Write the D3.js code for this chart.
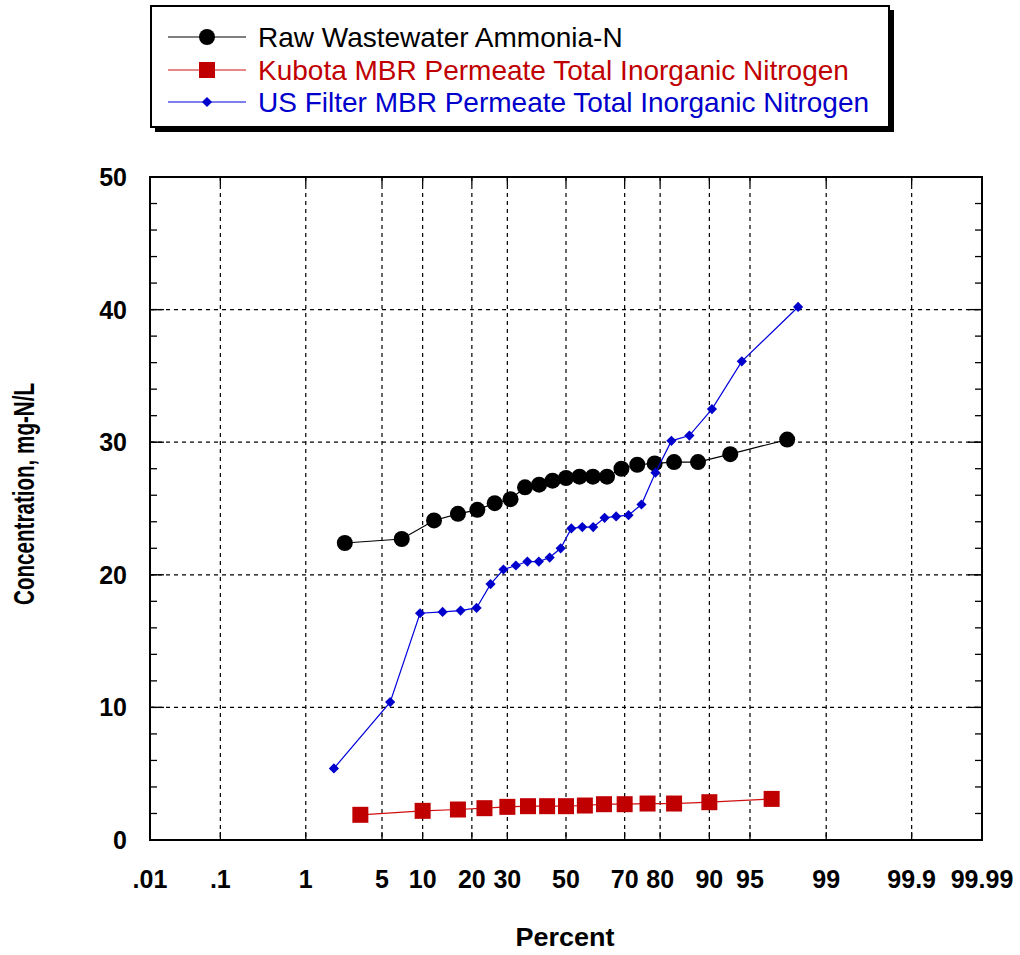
<!DOCTYPE html>
<html><head><meta charset="utf-8">
<script src="https://cdn.jsdelivr.net/npm/d3@7"></script>
<style>body{margin:0;background:#fff}svg{display:block;font-family:Arial,"Liberation Sans",sans-serif}</style>
</head><body><svg id="c" width="1020" height="955"></svg>
<script>
// ---- data ----
const xTickLabels = [".01", ".1", "1", "5", "10", "20", "30", "50", "70", "80", "90", "95", "99", "99.9", "99.99"];
const xTickValues = [0.01, 0.1, 1, 5, 10, 20, 30, 50, 70, 80, 90, 95, 99, 99.9, 99.99];
const yTickValues = [0, 10, 20, 30, 40, 50];
const seriesNames = ["Raw Wastewater Ammonia-N", "Kubota MBR Permeate Total Inorganic Nitrogen", "US Filter MBR Permeate Total Inorganic Nitrogen"];

const rawPct = [2.4, 7.1, 11.9, 16.7, 21.4, 26.2, 31.0, 35.7, 40.5, 45.2, 50, 54.8, 59.5, 64.3, 69.0, 73.8, 78.6, 83.3, 88.1, 92.9, 97.6];
const rawVal = [22.4, 22.7, 24.1, 24.6, 24.9, 25.4, 25.7, 26.6, 26.8, 27.1, 27.3, 27.4, 27.4, 27.4, 28.0, 28.3, 28.4, 28.5, 28.5, 29.1, 30.2];

const kubPct = [3.3, 10, 16.7, 23.3, 30, 36.7, 43.3, 50, 56.7, 63.3, 70, 76.7, 83.3, 90, 96.7];
const kubVal = [1.9, 2.2, 2.3, 2.4, 2.5, 2.55, 2.55, 2.55, 2.6, 2.7, 2.7, 2.75, 2.75, 2.85, 3.1];

const usfPct = [1.9, 5.8, 9.6, 13.5, 17.3, 21.2, 25.0, 28.8, 32.7, 36.5, 40.4, 44.2, 48.1, 51.9, 55.8, 59.6, 63.5, 67.3, 71.2, 75.0, 78.8, 82.7, 86.5, 90.4, 94.2, 98.1];
const usfVal = [5.4, 10.4, 17.1, 17.2, 17.3, 17.5, 19.3, 20.4, 20.7, 21.0, 21.0, 21.3, 22.0, 23.5, 23.6, 23.6, 24.3, 24.4, 24.5, 25.3, 27.7, 30.1, 30.5, 32.5, 36.1, 40.2];

// ---- probit (inverse normal CDF, Acklam) ----
function probit(p){
  const a=[-3.969683028665376e+01,2.209460984245205e+02,-2.759285104469687e+02,1.383577518672690e+02,-3.066479806614716e+01,2.506628277459239e+00];
  const b=[-5.447609879822406e+01,1.615858368580409e+02,-1.556989798598866e+02,6.680131188771972e+01,-1.328068155288572e+01];
  const c=[-7.784894002430293e-03,-3.223964580411365e-01,-2.400758277161838e+00,-2.549671010342505e+00,4.374664141464968e+00,2.938163982698783e+00];
  const d=[7.784695709041462e-03,3.224671290700398e-01,2.445134137142996e+00,3.754408661907416e+00];
  const pl=0.02425;
  let q,r;
  if(p<pl){q=Math.sqrt(-2*Math.log(p));return (((((c[0]*q+c[1])*q+c[2])*q+c[3])*q+c[4])*q+c[5])/((((d[0]*q+d[1])*q+d[2])*q+d[3])*q+1);}
  if(p>1-pl){q=Math.sqrt(-2*Math.log(1-p));return -(((((c[0]*q+c[1])*q+c[2])*q+c[3])*q+c[4])*q+c[5])/((((d[0]*q+d[1])*q+d[2])*q+d[3])*q+1);}
  q=p-0.5;r=q*q;
  return (((((a[0]*r+a[1])*r+a[2])*r+a[3])*r+a[4])*r+a[5])*q/(((((b[0]*r+b[1])*r+b[2])*r+b[3])*r+b[4])*r+1);
}

const L=150, R=982, T=177, B=840;
const zScale = d3.scaleLinear().domain([probit(0.0001), probit(0.9999)]).range([L, R]);
const x = pct => zScale(probit(pct/100));
const y = d3.scaleLinear().domain([0, 50]).range([B, T]);

const svg = d3.select("#c");

// grid
const g = svg.append("g");
xTickValues.slice(1, -1).forEach(v => {
  g.append("line").attr("x1", x(v)).attr("x2", x(v)).attr("y1", T).attr("y2", B)
    .attr("stroke", "#000").attr("stroke-width", 1.2).attr("stroke-dasharray", "4,4");
});
yTickValues.slice(1, -1).forEach(v => {
  g.append("line").attr("x1", L).attr("x2", R).attr("y1", y(v)).attr("y2", y(v))
    .attr("stroke", "#000").attr("stroke-width", 1.2).attr("stroke-dasharray", "4,4");
});
// x ticks top & bottom (inward)
xTickValues.forEach(v => {
  g.append("line").attr("x1", x(v)).attr("x2", x(v)).attr("y1", B).attr("y2", B-8).attr("stroke", "#000").attr("stroke-width", 1.3);
  g.append("line").attr("x1", x(v)).attr("x2", x(v)).attr("y1", T).attr("y2", T+8).attr("stroke", "#000").attr("stroke-width", 1.3);
});
// y ticks left & right (inward), minor every 2
d3.range(0, 51, 2).forEach(v => {
  const len = 7;
  g.append("line").attr("x1", L).attr("x2", L+len).attr("y1", y(v)).attr("y2", y(v)).attr("stroke", "#000").attr("stroke-width", 1.3);
  g.append("line").attr("x1", R).attr("x2", R-len).attr("y1", y(v)).attr("y2", y(v)).attr("stroke", "#000").attr("stroke-width", 1.3);
});
yTickValues.forEach(v => {
  g.append("line").attr("x1", L).attr("x2", L+14).attr("y1", y(v)).attr("y2", y(v)).attr("stroke", "#000").attr("stroke-width", 1.3);
  g.append("line").attr("x1", R).attr("x2", R-14).attr("y1", y(v)).attr("y2", y(v)).attr("stroke", "#000").attr("stroke-width", 1.3);
});
// frame
svg.append("rect").attr("x", L).attr("y", T).attr("width", R-L).attr("height", B-T)
  .attr("fill", "none").attr("stroke", "#000").attr("stroke-width", 2);

// tick labels
xTickValues.forEach((v, i) => {
  svg.append("text").attr("x", x(v)).attr("y", 888).attr("text-anchor", "middle")
    .attr("font-size", 25).attr("font-weight", "bold").text(xTickLabels[i]);
});
yTickValues.forEach(v => {
  svg.append("text").attr("x", 127).attr("y", y(v)+9).attr("text-anchor", "end")
    .attr("font-size", 25).attr("font-weight", "bold").text(v);
});
svg.append("text").attr("x", 565).attr("y", 946).attr("text-anchor", "middle")
  .attr("font-size", 26).attr("font-weight", "bold").attr("textLength", 99).attr("lengthAdjust", "spacingAndGlyphs").text("Percent");
svg.append("text").attr("transform", "translate(34,494) rotate(-90)").attr("text-anchor", "middle")
  .attr("font-size", 30).attr("font-weight", "bold").attr("textLength", 222).attr("lengthAdjust", "spacingAndGlyphs").text("Concentration, mg-N/L");

// series
const line = d3.line().x(d => x(d[0])).y(d => y(d[1]));
const raw = rawPct.map((p, i) => [p, rawVal[i]]);
const kub = kubPct.map((p, i) => [p, kubVal[i]]);
const usf = usfPct.map((p, i) => [p, usfVal[i]]);

svg.append("path").datum(kub).attr("d", line).attr("fill", "none").attr("stroke", "#d01010").attr("stroke-width", 1.2);
svg.selectAll(".kub").data(kub).enter().append("rect")
  .attr("x", d => x(d[0]) - 8).attr("y", d => y(d[1]) - 8).attr("width", 16).attr("height", 16).attr("fill", "#c00000");

svg.append("path").datum(raw).attr("d", line).attr("fill", "none").attr("stroke", "#000").attr("stroke-width", 1.2);
svg.selectAll(".raw").data(raw).enter().append("circle")
  .attr("cx", d => x(d[0])).attr("cy", d => y(d[1])).attr("r", 8).attr("fill", "#000");

svg.append("path").datum(usf).attr("d", line).attr("fill", "none").attr("stroke", "#0000dd").attr("stroke-width", 1.2);
const dia = d3.symbol().type(d3.symbolSquare).size(52);
svg.selectAll(".usf").data(usf).enter().append("path")
  .attr("transform", d => `translate(${x(d[0])},${y(d[1])}) rotate(45)`).attr("d", dia).attr("fill", "#0000cc");

// legend
const lg = svg.append("g");
lg.append("rect").attr("x", 155).attr("y", 10).attr("width", 739).attr("height", 122).attr("fill", "#000");
lg.append("rect").attr("x", 151).attr("y", 6).attr("width", 738).attr("height", 121).attr("fill", "#fff").attr("stroke", "#000").attr("stroke-width", 2);
const colors = ["#000", "#c00000", "#0000cc"];
const lineColors = ["#000", "#d01010", "#0000dd"];
const rows = [37, 70, 102];
seriesNames.forEach((n, i) => {
  lg.append("line").attr("x1", 168).attr("x2", 246).attr("y1", rows[i]).attr("y2", rows[i]).attr("stroke", lineColors[i]).attr("stroke-width", 1.2);
  lg.append("text").attr("x", 258).attr("y", rows[i] + 10).attr("font-size", 28).attr("fill", colors[i]).text(n);
});
lg.append("circle").attr("cx", 207).attr("cy", rows[0]).attr("r", 8).attr("fill", "#000");
lg.append("rect").attr("x", 199).attr("y", rows[1]-8).attr("width", 16).attr("height", 16).attr("fill", "#c00000");
lg.append("path").attr("transform", `translate(207,${rows[2]}) rotate(45)`).attr("d", dia).attr("fill", "#0000cc");
</script></body></html>
